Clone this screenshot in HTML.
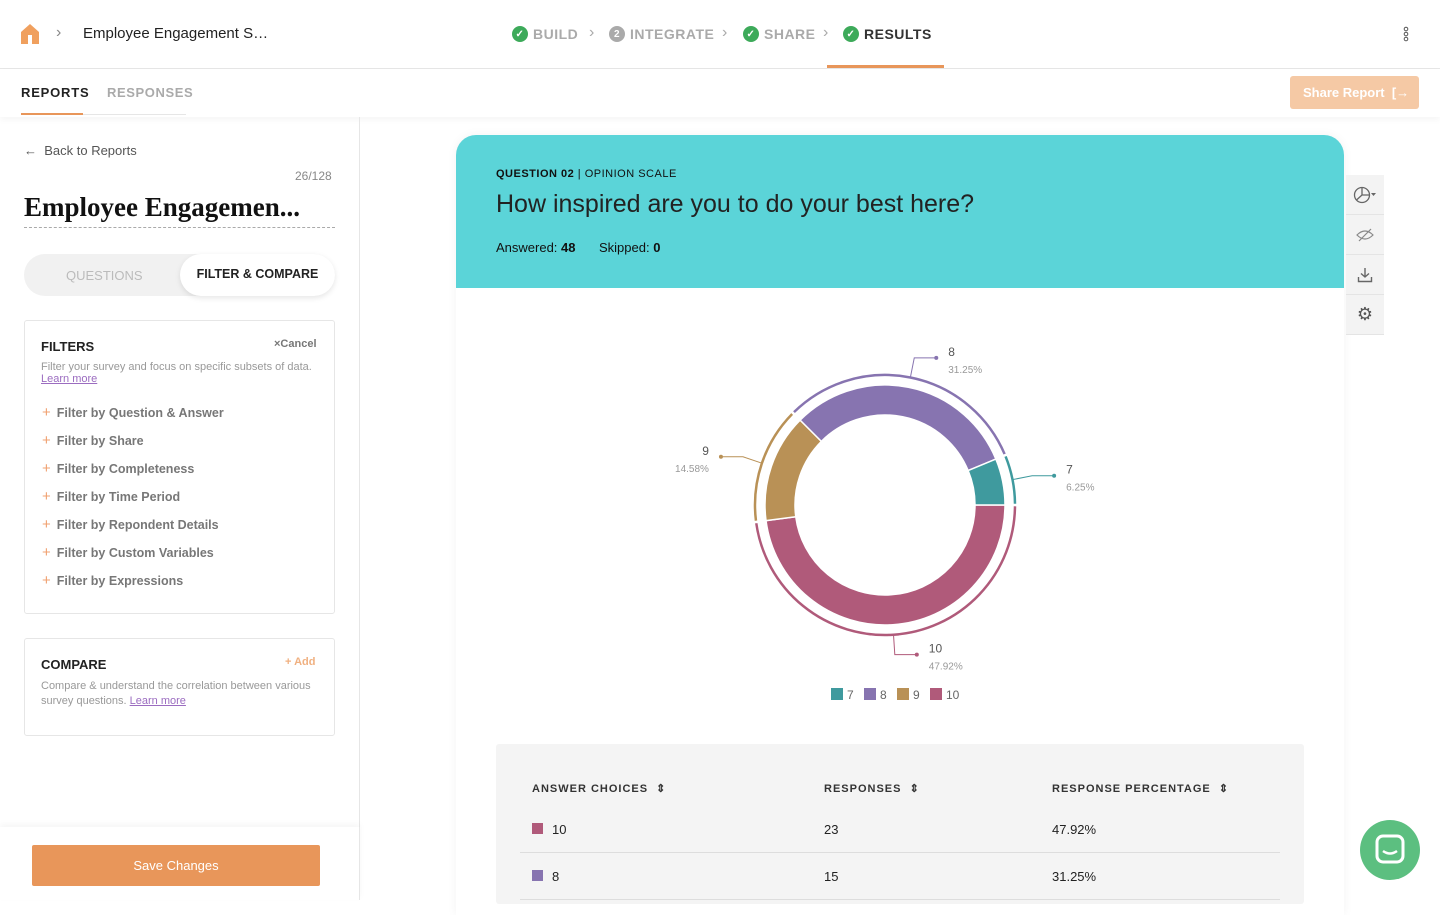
<!DOCTYPE html>
<html><head><meta charset="utf-8">
<style>
*{box-sizing:border-box;margin:0;padding:0}
body{width:1440px;height:900px;overflow:hidden;background:#fff;font-family:"Liberation Sans",sans-serif;color:#222;position:relative}
.abs{position:absolute}
.topbar{left:0;top:0;width:1440px;height:69px;border-bottom:1px solid #e6e6e6}
.step{top:26px;font-size:14px;letter-spacing:.5px;color:#aaa;font-weight:bold;display:flex;align-items:center;gap:5px}
.chk{width:16px;height:16px;border-radius:50%;background:#3daa5a;color:#fff;font-size:10px;display:inline-flex;align-items:center;justify-content:center}
.tabs{top:69px;left:0;width:1440px;height:48px;box-shadow:0 3px 6px rgba(0,0,0,.04)}
.left{left:0;top:117px;width:360px;height:783px;border-right:1px solid #e6e6e6}
.filt{font-size:12.5px;color:#777;font-weight:bold;position:absolute;left:17px}
.filt span{color:#f0a070;font-weight:normal;margin-right:6px;font-size:15px}
.tb{position:absolute;left:1346px;width:38px;height:40px;background:#f3f3f3;border-bottom:1px solid #e4e4e4;display:flex;align-items:center;justify-content:center;color:#666;font-size:15px}
.th{font-size:11px;font-weight:bold;letter-spacing:1px;color:#333;position:absolute;top:782px}
.td{font-size:13px;color:#222;position:absolute}
</style></head><body>
<div class="abs topbar">
  <svg class="abs" style="left:20px;top:23px" width="20" height="22"><path d="M10 1 L19 9 V21 H1 V9 Z" fill="#f0a05e"/><rect x="8" y="12" width="4" height="9" fill="#fff"/></svg>
  <div class="abs" style="left:56px;top:24px;color:#888;font-size:16px">›</div>
  <div class="abs" style="left:83px;top:25px;font-size:15px;color:#222">Employee Engagement S…</div>
  <div class="abs step" style="left:512px"><span class="chk">✓</span>BUILD</div>
  <div class="abs" style="left:589px;top:24px;color:#aaa">›</div>
  <div class="abs step" style="left:609px"><span class="chk" style="background:#aaa">2</span>INTEGRATE</div>
  <div class="abs" style="left:722px;top:24px;color:#aaa">›</div>
  <div class="abs step" style="left:743px"><span class="chk">✓</span>SHARE</div>
  <div class="abs" style="left:823px;top:24px;color:#aaa">›</div>
  <div class="abs step" style="left:843px;color:#333"><span class="chk">✓</span>RESULTS</div>
  <div class="abs" style="left:827px;top:65px;width:117px;height:3px;background:#e8965a"></div>
  <svg class="abs" style="left:1402px;top:26px" width="8" height="16"><circle cx="4" cy="3" r="1.8" fill="none" stroke="#555"/><circle cx="4" cy="8" r="1.8" fill="none" stroke="#555"/><circle cx="4" cy="13" r="1.8" fill="none" stroke="#555"/></svg>
</div>
<div class="abs tabs">
  <div class="abs" style="left:21px;top:16px;font-size:13px;font-weight:bold;letter-spacing:.8px;color:#222">REPORTS</div>
  <div class="abs" style="left:21px;top:44px;width:62px;height:2px;background:#e8965a"></div>
  <div class="abs" style="left:83px;top:45px;width:103px;height:1px;background:#e6e6e6"></div>
  <div class="abs" style="left:107px;top:16px;font-size:13px;font-weight:bold;letter-spacing:.6px;color:#aaa">RESPONSES</div>
  <div class="abs" style="left:1290px;top:7px;width:129px;height:33px;background:#f5c9a5;border-radius:3px;color:#fff;font-size:13px;font-weight:bold;padding:9px 0 0 13px">Share Report &nbsp;[→</div>
</div>
<div class="abs left">
  <div class="abs" style="left:24px;top:26px;font-size:13px;color:#555">← &nbsp;Back to Reports</div>
  <div class="abs" style="left:295px;top:52px;font-size:12px;color:#888">26/128</div>
  <div class="abs" style="left:24px;top:75px;width:311px;font:bold 27px 'Liberation Serif',serif;color:#111;border-bottom:1px dashed #aaa;padding-bottom:4px;white-space:nowrap;overflow:hidden">Employee Engagemen...</div>
  <div class="abs" style="left:24px;top:137px;width:311px;height:42px;background:#f1f1f1;border-radius:21px">
    <div class="abs" style="left:42px;top:14px;font-size:13px;color:#bbb">QUESTIONS</div>
    <div class="abs" style="left:156px;top:0;width:155px;height:42px;background:#fff;border-radius:21px;box-shadow:0 2px 6px rgba(0,0,0,.1);font-size:12.5px;font-weight:bold;color:#222;padding-top:13px;text-align:center">FILTER &amp; COMPARE</div>
  </div>
  <div class="abs" style="left:24px;top:203px;width:311px;height:294px;border:1px solid #e6e6e6;border-radius:3px">
    <div class="abs" style="left:16px;top:18px;font-size:13px;font-weight:bold;color:#222">FILTERS</div>
    <div class="abs" style="left:249px;top:17px;font-size:11px;font-weight:bold;color:#777">×Cancel</div>
    <div class="abs" style="left:16px;top:40px;font-size:11px;color:#999">Filter your survey and focus on specific subsets of data.<br><u style="color:#9b6cc0">Learn more</u></div>
    <div class="filt" style="top:83px"><span>+</span>Filter by Question &amp; Answer</div>
    <div class="filt" style="top:111px"><span>+</span>Filter by Share</div>
    <div class="filt" style="top:139px"><span>+</span>Filter by Completeness</div>
    <div class="filt" style="top:167px"><span>+</span>Filter by Time Period</div>
    <div class="filt" style="top:195px"><span>+</span>Filter by Repondent Details</div>
    <div class="filt" style="top:223px"><span>+</span>Filter by Custom Variables</div>
    <div class="filt" style="top:251px"><span>+</span>Filter by Expressions</div>
  </div>
  <div class="abs" style="left:24px;top:521px;width:311px;height:98px;border:1px solid #e6e6e6;border-radius:3px">
    <div class="abs" style="left:16px;top:18px;font-size:13px;font-weight:bold;color:#222">COMPARE</div>
    <div class="abs" style="left:260px;top:17px;font-size:11px;font-weight:bold;color:#f0b080">+ Add</div>
    <div class="abs" style="left:16px;top:40px;width:285px;font-size:11px;color:#999;line-height:15px">Compare &amp; understand the correlation between various survey questions. <u style="color:#9b6cc0">Learn more</u></div>
  </div>
  <div class="abs" style="left:0;top:710px;width:360px;height:73px;box-shadow:0 -3px 6px rgba(0,0,0,.04)"></div>
  <div class="abs" style="left:32px;top:728px;width:288px;height:41px;background:#e8965a;border-radius:2px;color:#fff;font-size:13px;text-align:center;padding-top:13px">Save Changes</div>
</div>
<div class="abs" style="left:456px;top:135px;width:888px;height:780px;background:#fff;border-radius:20px 20px 0 0;box-shadow:0 0 10px rgba(0,0,0,.05)"></div>
<div class="abs" style="left:456px;top:135px;width:888px;height:153px;background:#5bd4d8;border-radius:20px 20px 0 0">
  <div class="abs" style="left:40px;top:33px;font-size:11px;letter-spacing:.5px;color:#111"><b>QUESTION 02</b> | OPINION SCALE</div>
  <div class="abs" style="left:40px;top:55px;font-size:25px;color:#222">How inspired are you to do your best here?</div>
  <div class="abs" style="left:40px;top:105px;font-size:13px;color:#111">Answered: <b>48</b></div>
  <div class="abs" style="left:143px;top:105px;font-size:13px;color:#111">Skipped: <b>0</b></div>
</div>
<div class="tb" style="top:175px"><svg width="24" height="20"><circle cx="9" cy="10" r="7.5" fill="none" stroke="#666" stroke-width="1.3"/><path d="M9 10 L9 2.5 M9 10 L16.5 10 M9 10 L3.5 15" stroke="#666" stroke-width="1.3"/><path d="M18 8 L23 8 L20.5 11 Z" fill="#666"/></svg></div>
<div class="tb" style="top:215px"><svg width="18" height="14"><path d="M1 7 Q9 -1 17 7 Q9 15 1 7 Z" fill="none" stroke="#888" stroke-width="1.2"/><path d="M3 13 L15 1" stroke="#888" stroke-width="1.2"/></svg></div>
<div class="tb" style="top:255px"><svg width="16" height="16"><path d="M8 1 V10 M4 6.5 L8 10 L12 6.5 M1.5 10 V14.5 H14.5 V10" fill="none" stroke="#666" stroke-width="1.4"/></svg></div>
<div class="tb" style="top:295px;font-size:18px;color:#555">⚙</div>

<svg class="abs" style="left:0;top:0" width="1440" height="720" id="chart"></svg>

<div class="abs" style="left:496px;top:744px;width:808px;height:160px;background:#f4f4f4;border-radius:3px"></div>
<div class="th" style="left:532px">ANSWER CHOICES &nbsp;⇕</div>
<div class="th" style="left:824px">RESPONSES &nbsp;⇕</div>
<div class="th" style="left:1052px">RESPONSE PERCENTAGE &nbsp;⇕</div>
<div class="abs" style="left:532px;top:823px;width:11px;height:11px;background:#b05a7a"></div>
<div class="td" style="left:552px;top:822px">10</div>
<div class="td" style="left:824px;top:822px">23</div>
<div class="td" style="left:1052px;top:822px">47.92%</div>
<div class="abs" style="left:520px;top:852px;width:760px;height:1px;background:#ddd"></div>
<div class="abs" style="left:532px;top:870px;width:11px;height:11px;background:#8774b0"></div>
<div class="td" style="left:552px;top:869px">8</div>
<div class="td" style="left:824px;top:869px">15</div>
<div class="td" style="left:1052px;top:869px">31.25%</div>
<div class="abs" style="left:520px;top:899px;width:760px;height:1px;background:#ddd"></div>

<div class="abs" style="left:1360px;top:820px;width:60px;height:60px;border-radius:50%;background:#5cbf80">
  <svg width="60" height="60"><rect x="17" y="16" width="26" height="26" rx="6" fill="none" stroke="#fff" stroke-width="3"/><path d="M23 31 Q30 36 37 31" stroke="#fff" stroke-width="2.5" fill="none"/></svg>
</div>

<script>
const categories=["10","9","8","7"];
const counts=[23,7,15,3];
const percentLabels=["47.92%","14.58%","31.25%","6.25%"];
const colors=["#b05a7a","#b99156","#8774b0","#3f9a9e"];
const legendOrder=["7","8","9","10"];

const svg=document.getElementById('chart');
const NS='http://www.w3.org/2000/svg';
const cx=885,cy=505,r0=90,r1=120,r2=130;
const total=counts.reduce((a,b)=>a+b,0);
function pt(a,r){return [cx+r*Math.cos(a),cy+r*Math.sin(a)];}
function mk(tag,attrs){const e=document.createElementNS(NS,tag);for(const k in attrs)e.setAttribute(k,attrs[k]);svg.appendChild(e);return e;}
let start=0;
counts.forEach((c,i)=>{
  const sweep=c/total*2*Math.PI,end=start+sweep,large=sweep>Math.PI?1:0;
  const a=pt(start,r1),b=pt(end,r1),d=pt(end,r0),e=pt(start,r0);
  const p=mk('path',{d:`M${a[0]},${a[1]} A${r1},${r1} 0 ${large} 1 ${b[0]},${b[1]} L${d[0]},${d[1]} A${r0},${r0} 0 ${large} 0 ${e[0]},${e[1]} Z`,fill:colors[i],stroke:'#fff','stroke-width':1.5});
  
  
  const g=0.01,o1=pt(start+g,r2),o2=pt(end-g,r2);
  const ring=mk('path',{d:`M${o1[0]},${o1[1]} A${r2},${r2} 0 ${large} 1 ${o2[0]},${o2[1]}`,fill:'none',stroke:colors[i],'stroke-width':2.5});
  
  
  const mid=(start+end)/2,m=pt(mid,r2),k=pt(mid,r2+20);
  const right=Math.cos(mid)>=0;
  const ex=k[0]+(right?22:-22);
  const ln=mk('polyline',{points:`${m[0]},${m[1]} ${k[0]},${k[1]} ${ex},${k[1]}`,fill:'none',stroke:colors[i],'stroke-width':1});
  
  
  mk('circle',{cx:ex,cy:k[1],r:2,fill:colors[i]});
  const tx=right?ex+12:ex-12,anchor=right?'start':'end';
  const t1=mk('text',{x:tx,y:k[1]-2,'font-size':12,fill:'#555','text-anchor':anchor,'font-family':'Liberation Sans, sans-serif'});
  t1.textContent=categories[i];
  
  
  const t2=mk('text',{x:tx,y:k[1]+15,'font-size':10,fill:'#999','text-anchor':anchor,'font-family':'Liberation Sans, sans-serif'});
  t2.textContent=percentLabels[i];
  
  
  start=end;
});
let lx=831;
legendOrder.forEach(cat=>{
  const i=categories.indexOf(cat);
  const r=mk('rect',{x:lx,y:688,width:12,height:12,fill:colors[i]});
  
  
  const t=mk('text',{x:lx+16,y:699,'font-size':12,fill:'#666','font-family':'Liberation Sans, sans-serif'});
  t.textContent=cat;
  
  
  lx+=16+cat.length*7+10;
});
</script>
</body></html>
